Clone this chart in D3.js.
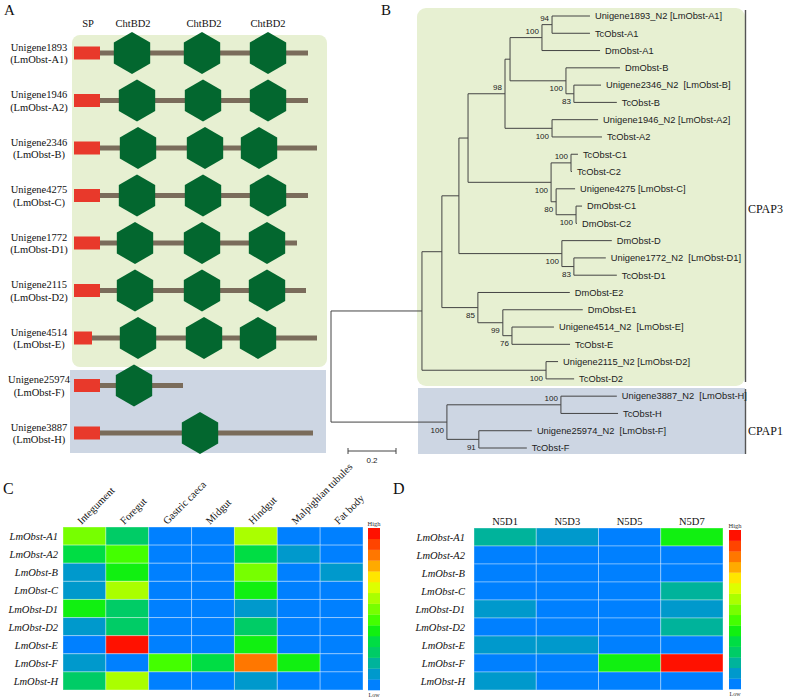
<!DOCTYPE html>
<html><head><meta charset="utf-8">
<script src="https://cdn.jsdelivr.net/npm/d3@7"></script>
<style>body{margin:0;background:#fff} svg text{white-space:pre}</style>
</head><body><svg id="c" width="787" height="699"></svg>
<script>
// ---------------- DATA ----------------
// Panel A: domain architecture (residue units)
const proteinNames = ["Unigene1893","Unigene1946","Unigene2346","Unigene4275","Unigene1772","Unigene2115","Unigene4514","Unigene25974","Unigene3887"];
const proteinIds = ["(LmObst-A1)","(LmObst-A2)","(LmObst-B)","(LmObst-C)","(LmObst-D1)","(LmObst-D2)","(LmObst-E)","(LmObst-F)","(LmObst-H)"];
const proteinLength = [234,234,243,234,223,232,243,109,239];
const spLength = [26,26,26,26,26,26,18,26,26];
const domainCenters = [[58,128,194],[63,129,194],[64,131,185],[63,129,194],[61,128,193],[61,128,193],[64,130,184],[60],[126]];
const domainHeaders = ["SP","ChtBD2","ChtBD2","ChtBD2"];
const headerPos = [14,59,130,194];

// Panel B: tree edges [node, parent, branch length, bootstrap, label side]
const treeEdges = [
 ["R",null,0],
 ["P3","R",0.379],
 ["NA","P3",0.083],
 ["NB","NA",0.071],
 ["NC","NB",0.038],
 ["N98","NC",0.154,98,"a"],
 ["NE2","N98",0.021],
 ["NA1","NE2",0.133,100,"a"],
 ["N94","NA1",0.042,94,"a"],
 ["Unigene1893_N2 [LmObst-A1]","N94",0.158],
 ["TcObst-A1","N94",0.158],
 ["DmObst-A1","NA1",0.242],
 ["NBB","NE2",0.233,100,"b"],
 ["DmObst-B","NBB",0.225],
 ["N83","NBB",0.033,83,"b"],
 ["Unigene2346_N2  [LmObst-B]","N83",0.113],
 ["TcObst-B","N83",0.179],
 ["NA2","N98",0.196,100,"b"],
 ["Unigene1946_N2 [LmObst-A2]","NA2",0.192],
 ["TcObst-A2","NA2",0.208],
 ["NCC","NC",0.346,100,"b"],
 ["NC12","NCC",0.083,100,"a"],
 ["TcObst-C1","NC12",0.029],
 ["TcObst-C2","NC12",0.004],
 ["N80","NCC",0.021,80,"b"],
 ["Unigene4275 [LmObst-C]","N80",0.079],
 ["NDmC","N80",0.083,100,"b"],
 ["DmObst-C1","NDmC",0.025],
 ["DmObst-C2","NDmC",0.004],
 ["NDD","NB",0.429,100,"b"],
 ["DmObst-D","NDD",0.208],
 ["ND1","NDD",0.050,83,"b"],
 ["Unigene1772_N2  [LmObst-D1]","ND1",0.133],
 ["TcObst-D1","ND1",0.179],
 ["NE85","NA",0.150,85,"b"],
 ["DmObst-E2","NE85",0.383],
 ["NE99","NE85",0.104,99,"b"],
 ["DmObst-E1","NE99",0.333],
 ["NE76","NE99",0.038,76,"b"],
 ["Unigene4514_N2  [LmObst-E]","NE76",0.175],
 ["TcObst-E","NE76",0.242],
 ["ND2","P3",0.517,100,"b"],
 ["Unigene2115_N2 [LmObst-D2]","ND2",0.050],
 ["TcObst-D2","ND2",0.117],
 ["P1","R",0.483,100,"b"],
 ["NH","P1",0.475,100,"a"],
 ["Unigene3887_N2  [LmObst-H]","NH",0.233],
 ["TcObst-H","NH",0.238],
 ["NF","P1",0.133,91,"b"],
 ["Unigene25974_N2  [LmObst-F]","NF",0.221],
 ["TcObst-F","NF",0.200]
];
const scaleBarValue = 0.2;
const groupNames = ["CPAP3","CPAP1"];

// Panel C / D heatmaps (expression level 0=low .. 14=high)
const genes = ["LmObst-A1","LmObst-A2","LmObst-B","LmObst-C","LmObst-D1","LmObst-D2","LmObst-E","LmObst-F","LmObst-H"];
const tissues = ["Integument","Foregut","Gastric caeca","Midgut","Hindgut","Malpighian tubules","Fat body"];
const tissueLevels = [
 [7,3,0,0,8,0,0],
 [4,6,0,0,4,1,0],
 [1,5,0,0,7,0,1],
 [1,8,0,0,5,0,0],
 [5,3,0,0,1,0,0],
 [1,3,0,0,3,0,0],
 [0,14,0,0,5,0,0],
 [1,0,6,4,12,5,0],
 [3,8,0,0,1,0,0]
];
const stages = ["N5D1","N5D3","N5D5","N5D7"];
const stageLevels = [
 [2,1,0,5],
 [0,0,0,0],
 [0,0,0,0],
 [0,0,0,2],
 [1,0,0,1],
 [0,0,0,2],
 [1,1,0,0],
 [0,0,5,14],
 [1,0,0,0]
];
const levelColors = ["#0080FF","#0099CC","#00B39B","#00CC66","#00DD44","#11F011","#44FF00","#77FF00","#AAFF00","#DDFF00","#FFE600","#FFAA00","#FF7700","#FF4400","#FF1100"];

// ---------------- DRAW ----------------
const svg = d3.select("#c");
const SERIF = "'Liberation Serif','Times New Roman',serif";
const SANS = "'Liberation Sans',Arial,sans-serif";
const GREEN_BG = "#E7F0D2", BLUE_BG = "#CDD6E3";

function panelLabel(t,x,y,size){
  svg.append("text").attr("x",x).attr("y",y).attr("font-family",SERIF).attr("font-size",size).attr("fill","#111").text(t);
}
panelLabel("A",4,15,15); panelLabel("B",381,15,15); panelLabel("C",3,494,16); panelLabel("D",393,494,16);

// ---- Panel A ----
const gA = svg.append("g");
const xA = d3.scaleLinear().domain([0,250]).range([74,324]);
const yA = d3.scaleLinear().domain([0,proteinNames.length-1]).range([53,433]);
gA.append("rect").attr("x",72).attr("y",35).attr("width",255).attr("height",332).attr("rx",8).attr("fill",GREEN_BG);
gA.append("rect").attr("x",70).attr("y",370).attr("width",256).attr("height",83).attr("fill",BLUE_BG);
domainHeaders.forEach((h,i)=>{
  gA.append("text").attr("x",xA(headerPos[i])).attr("y",27).attr("text-anchor","middle")
    .attr("font-family",SERIF).attr("font-size",10.5).attr("fill","#111").text(h);
});
const hexPts = d3.range(6).map(k=>{const a=(-90+k*60)*Math.PI/180;return [21*Math.cos(a),21*Math.sin(a)];});
const hexPath = "M"+hexPts.map(p=>p.join(",")).join("L")+"Z";
proteinNames.forEach((n,i)=>{
  const y=yA(i);
  gA.append("text").attr("x",39).attr("y",y-2.5).attr("text-anchor","middle").attr("font-family",SERIF).attr("font-size",10.5).attr("fill","#111").text(n);
  gA.append("text").attr("x",39).attr("y",y+10).attr("text-anchor","middle").attr("font-family",SERIF).attr("font-size",10.5).attr("fill","#111").text(proteinIds[i]);
  gA.append("rect").attr("x",xA(spLength[i])).attr("y",y-2.5).attr("width",xA(proteinLength[i])-xA(spLength[i])).attr("height",5).attr("fill","#7A6C5B");
  gA.append("rect").attr("x",xA(0)).attr("y",y-6.5).attr("width",xA(spLength[i])-xA(0)).attr("height",13).attr("fill","#E8392B");
  domainCenters[i].forEach(c=>{
    gA.append("path").attr("d",hexPath).attr("transform",`translate(${xA(c)},${y})`).attr("fill","#03672F");
  });
});

// ---- Panel B ----
const gB = svg.append("g");
gB.append("rect").attr("x",417).attr("y",8).attr("width",328).attr("height",378).attr("rx",9).attr("fill",GREEN_BG);
gB.append("rect").attr("x",418).attr("y",388).attr("width",327).attr("height",66).attr("fill",BLUE_BG);
gB.append("line").attr("x1",745.5).attr("x2",745.5).attr("y1",10).attr("y2",382).attr("stroke","#555").attr("stroke-width",1.4);
gB.append("line").attr("x1",745.5).attr("x2",745.5).attr("y1",389).attr("y2",454).attr("stroke","#555").attr("stroke-width",1.4);
gB.append("text").attr("x",748).attr("y",213).attr("font-family",SERIF).attr("font-size",12).attr("fill","#111").text(groupNames[0]);
gB.append("text").attr("x",748).attr("y",435).attr("font-family",SERIF).attr("font-size",12).attr("fill","#111").text(groupNames[1]);

const root = d3.stratify().id(d=>d[0]).parentId(d=>d[1])(treeEdges);
root.eachBefore(n=>{ n.len = n.parent ? n.parent.len + n.data[2] : 0; });
const leaves = root.leaves();
const xT = d3.scaleLinear().domain([0,1]).range([331,571]);
const yT = d3.scaleLinear().domain([0,leaves.length-1]).range([16,448]);
leaves.forEach((l,i)=>{ l.py = yT(i); });
root.eachAfter(n=>{ if(n.children){ n.py = (n.children[0].py + n.children[n.children.length-1].py)/2; } });
const tl = gB.append("g").attr("stroke","#444").attr("stroke-width",1).attr("fill","none");
root.each(n=>{
  if(n.parent){
    tl.append("line").attr("x1",xT(n.parent.len)).attr("x2",xT(n.len)).attr("y1",n.py).attr("y2",n.py);
  }
  if(n.children){
    tl.append("line").attr("x1",xT(n.len)).attr("x2",xT(n.len)).attr("y1",n.children[0].py).attr("y2",n.children[n.children.length-1].py);
  }
});
leaves.forEach(l=>{
  gB.append("text").attr("x",xT(l.len)+5).attr("y",l.py+3.3).attr("font-family",SANS).attr("font-size",9.3).attr("fill","#222").text(l.id);
});
root.each(n=>{
  if(n.data[3]!==undefined){
    gB.append("text").attr("x",xT(n.len)-3).attr("y",n.data[4]==="a"? n.py-3.5 : n.py+10.5)
      .attr("text-anchor","end").attr("font-family",SANS).attr("font-size",8).attr("fill","#222").text(n.data[3]);
  }
});
// scale bar
const sbx = 348, sby = 451;
const sbw = xT(scaleBarValue)-xT(0);
const sb = gB.append("g").attr("stroke","#444").attr("stroke-width",1);
sb.append("line").attr("x1",sbx).attr("x2",sbx+sbw).attr("y1",sby).attr("y2",sby);
sb.append("line").attr("x1",sbx).attr("x2",sbx).attr("y1",sby-3).attr("y2",sby+3);
sb.append("line").attr("x1",sbx+sbw).attr("x2",sbx+sbw).attr("y1",sby-3).attr("y2",sby+3);
gB.append("text").attr("x",sbx+sbw/2).attr("y",463).attr("text-anchor","middle").attr("font-family",SANS).attr("font-size",8).attr("fill","#222").text(scaleBarValue);

// ---- Heatmaps ----
const color = d3.scaleOrdinal(d3.range(levelColors.length), levelColors);
function heatmap(cols, levels, x0, x1, y0, y1, labelRight, rotated, cbX, cbY0, cbY1){
  const g = svg.append("g");
  const x = d3.scaleBand().domain(cols).range([x0,x1]);
  const y = d3.scaleBand().domain(genes).range([y0,y1]);
  genes.forEach((gname,r)=>{
    cols.forEach((c,k)=>{
      g.append("rect").attr("x",x(c)).attr("y",y(gname)).attr("width",x.bandwidth()).attr("height",y.bandwidth())
        .attr("fill",color(levels[r][k])).attr("stroke","rgba(255,255,255,0.35)").attr("stroke-width",1);
    });
    g.append("text").attr("x",labelRight).attr("y",y(gname)+y.bandwidth()/2+4).attr("text-anchor","end")
      .attr("font-family",SERIF).attr("font-style","italic").attr("font-size",10.5).attr("fill","#111").text(gname);
  });
  cols.forEach(c=>{
    const cx = x(c)+x.bandwidth()/2;
    if(rotated){
      g.append("text").attr("transform",`translate(${cx-3},${y0-2}) rotate(-45)`).attr("font-family",SERIF)
        .attr("font-size",10.5).attr("fill","#111").text(c);
    } else {
      g.append("text").attr("x",cx).attr("y",y0-3).attr("text-anchor","middle").attr("font-family",SERIF)
        .attr("font-size",10.5).attr("fill","#111").text(c);
    }
  });
  const cy = d3.scaleBand().domain(d3.range(levelColors.length).reverse()).range([cbY0,cbY1]);
  d3.range(levelColors.length).forEach(v=>{
    g.append("rect").attr("x",cbX).attr("y",cy(v)).attr("width",12).attr("height",cy.bandwidth()+0.3).attr("fill",color(v));
  });
  g.append("text").attr("x",cbX+6).attr("y",cbY0-2).attr("text-anchor","middle").attr("font-family",SERIF).attr("font-size",6.5).attr("fill","#333").text("High");
  g.append("text").attr("x",cbX+6).attr("y",Math.min(cbY1+7,697)).attr("text-anchor","middle").attr("font-family",SERIF).attr("font-size",6).attr("fill","#333").text("Low");
}
heatmap(tissues, tissueLevels, 63, 363, 527, 690, 58, true, 368, 528, 690);
heatmap(stages, stageLevels, 474, 723, 528, 690, 465, false, 729, 530, 689);
</script></body></html>
